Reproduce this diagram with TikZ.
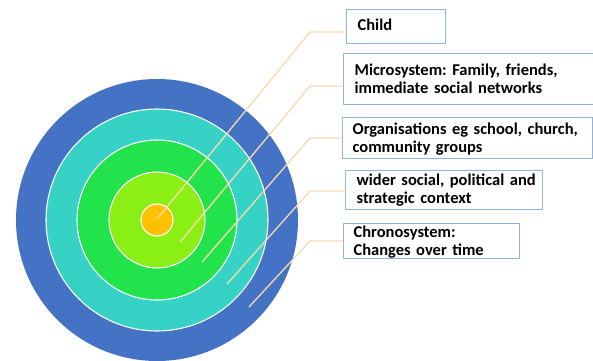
\documentclass[tikz,border=0pt]{standalone}
\usepackage{fontspec}
\setmainfont{Carlito}
\frenchspacing
\definecolor{ringblue}{HTML}{4472C4}
\definecolor{ringteal}{HTML}{36D2C6}
\definecolor{ringgreen}{HTML}{22E34B}
\definecolor{ringlime}{HTML}{8AEF14}
\definecolor{ringorange}{HTML}{FFC000}
\definecolor{leader}{HTML}{FAD9B0}
\definecolor{boxblue}{HTML}{8EB4E3}
\begin{document}
\begin{tikzpicture}[x=1pt,y=-1pt,
  ring/.style={circle, draw=white, line width=1.1pt, inner sep=0pt},
  lbox/.style={draw=boxblue, line width=1.2pt, anchor=north west, align=left,
    inner ysep=0pt, font=\fontsize{16.5}{18}\selectfont\bfseries\frenchspacing},
  leadline/.style={draw=leader, line width=1.3pt}]
\useasboundingbox (0,0) rectangle (593,360);
\node[ring, fill=ringblue, draw=none, minimum size=282pt] (chrono) at (157,220) {};
\node[ring, fill=ringteal, minimum size=222pt] (wider) at (157,220) {};
\node[ring, fill=ringgreen, minimum size=160pt] (orgs) at (157,220) {};
\node[ring, fill=ringlime, minimum size=96pt] (micro) at (157,220) {};
\node[ring, fill=ringorange, minimum size=32pt] (child) at (157,220) {};

\node[lbox, inner xsep=11pt, text width=77pt, text height=21pt, text depth=13pt] (bchild) at (346,9) {Child};
\node[lbox, inner xsep=11pt, text width=233pt, text height=22pt, text depth=29pt] (bmicro) at (343,53) {\mbox{Microsystem: Family, friends,}\\\mbox{immediate social networks}};
\node[lbox, inner xsep=10pt, text width=230pt, text height=17pt, text depth=24pt] (borgs) at (342,117) {\mbox{Organisations eg school, church,}\\\mbox{community groups}};
\node[lbox, inner xsep=11pt, text width=175pt, text height=15pt, text depth=24pt] (bwider) at (345,170) {\mbox{wider social, political and}\\\mbox{strategic context}};
\node[lbox, inner xsep=10pt, text width=156pt, text height=14pt, text depth=21pt] (bchrono) at (343,223) {\mbox{Chronosystem:}\\\mbox{Changes over time}};

\coordinate (s1) at (157,219);
\coordinate (s2) at (180,242);
\coordinate (s3) at (202,262);
\coordinate (s4) at (227,284);
\coordinate (s5) at (249,307);
\coordinate (k1) at (310,32);
\coordinate (k2) at (310,86);
\coordinate (k3) at (310,138);
\coordinate (k4) at (310,191);
\coordinate (k5) at (310,241);
\draw[leadline] (s1) -- (k1) -- (k1 -| bchild.west);
\draw[leadline] (s2) -- (k2) -- (k2 -| bmicro.west);
\draw[leadline] (s3) -- (k3) -- (k3 -| borgs.west);
\draw[leadline] (s4) -- (k4) -- (k4 -| bwider.west);
\draw[leadline] (s5) -- (k5) -- (k5 -| bchrono.west);
\end{tikzpicture}
\end{document}
